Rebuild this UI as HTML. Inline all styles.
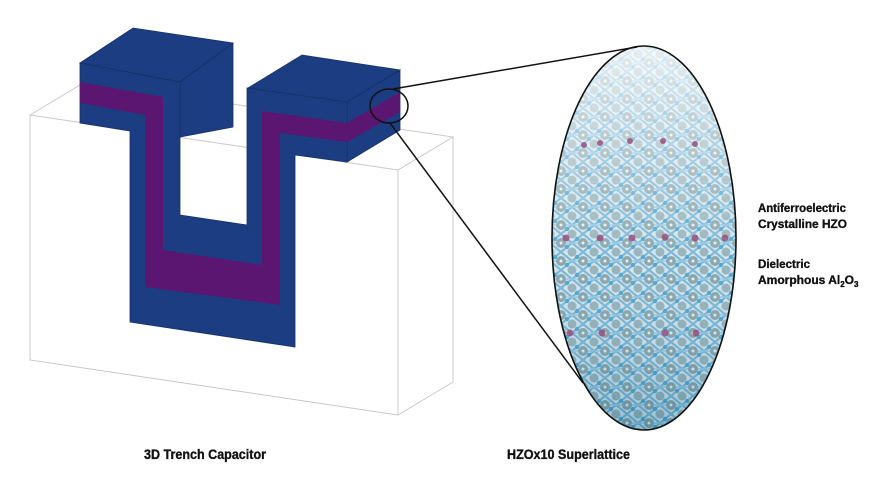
<!DOCTYPE html>
<html><head><meta charset="utf-8"><style>
html,body{margin:0;padding:0;background:#fff;}
svg{display:block;}
text{font-family:"Liberation Sans",sans-serif;font-weight:bold;fill:#111;stroke:#111;stroke-width:0.35;}
</style></head><body>
<svg width="881" height="488" viewBox="0 0 881 488" xmlns="http://www.w3.org/2000/svg">
<defs>
<pattern id="lat" width="22" height="18" patternUnits="userSpaceOnUse">
<rect width="22" height="18" fill="#cfe3ec"/>
<path d="M0 9 L11 0 L22 9 L11 18 Z" fill="none" stroke="#6fb0d2" stroke-width="2.2"/>
<line x1="0" y1="9" x2="22" y2="9" stroke="#8fc3dc" stroke-width="1.5"/>
<circle cx="11" cy="9" r="5" fill="#7f9ea5"/>
<circle cx="0" cy="0" r="4.5" fill="#8eacb3"/>
<circle cx="22" cy="0" r="4.5" fill="#8eacb3"/>
<circle cx="0" cy="18" r="4.5" fill="#8eacb3"/>
<circle cx="22" cy="18" r="4.5" fill="#8eacb3"/>
<circle cx="11" cy="9" r="1.5" fill="#dfeef2"/>
<circle cx="5" cy="5" r="2.2" fill="#3f9fd0"/>
<circle cx="17" cy="13" r="2.2" fill="#3f9fd0"/>
</pattern>
<linearGradient id="fade" x1="0" y1="0" x2="0" y2="1">
<stop offset="0" stop-color="#fff" stop-opacity="0.8"/>
<stop offset="0.25" stop-color="#fff" stop-opacity="0.45"/>
<stop offset="0.55" stop-color="#fff" stop-opacity="0.1"/>
<stop offset="1" stop-color="#1b6488" stop-opacity="0.3"/>
</linearGradient>
<clipPath id="ec"><ellipse cx="644" cy="238" rx="92" ry="192"/></clipPath>
</defs>

<g fill="none" stroke="#c8c8c8" stroke-width="1">
<polygon points="30,115 398,170 398,415 30,360"/>
<polyline points="30,115 85,82 453,137 453,382 398,415"/>
<line x1="398" y1="170" x2="453" y2="137"/>
</g>

<g fill="#1c3d82" stroke="#15306a" stroke-width="0.8">
<polygon points="80,63 133,28 233,43 180,82"/>
<polygon points="180,82 233,43 233,127 180,137"/>
<polygon points="248,88 302,55 400,70 347,102"/>
<polygon points="347,102 400,70 400,130 347,162"/>
<polygon points="80,63 180,82 180,215 247,225 247,88 347,102 347,162 295,155 295,347 130,322 130,131 80,123"/>
</g>
<g fill="#5a1670">
<polygon points="80,82 163,97 163,250 262,265 262,111 347,123 347,142 280,133 280,305 145,287 145,115 80,103"/>
<polygon points="347,123 400,92 400,112 347,142"/>
</g>

<g clip-path="url(#ec)">
<rect x="550" y="44" width="190" height="390" fill="url(#lat)"/>
<rect x="550" y="44" width="190" height="390" fill="url(#fade)"/>
<g fill="#9a4f7c" opacity="0.85">
<circle cx="584" cy="145" r="3"/><circle cx="600" cy="143" r="3"/><circle cx="630" cy="141" r="3"/><circle cx="663" cy="141" r="3"/><circle cx="695" cy="144" r="3"/><circle cx="728" cy="146" r="3"/>
<circle cx="566" cy="238" r="3.5"/><circle cx="600" cy="238" r="3.5"/><circle cx="632" cy="238" r="3.5"/><circle cx="665" cy="237" r="3.5"/><circle cx="695" cy="238" r="3.5"/><circle cx="725" cy="238" r="3.5"/>
<circle cx="570" cy="333" r="3.5"/><circle cx="602" cy="333" r="3.5"/><circle cx="665" cy="333" r="3.5"/><circle cx="696" cy="333" r="3.5"/><circle cx="727" cy="330" r="3.5"/>
</g>
</g>
<ellipse cx="644" cy="238" rx="92" ry="192" fill="none" stroke="#111" stroke-width="1.6"/>

<ellipse cx="389" cy="106" rx="19" ry="17" fill="none" stroke="#111" stroke-width="1.5"/>
<line x1="393" y1="89" x2="637" y2="47" stroke="#111" stroke-width="1.5"/>
<line x1="390" y1="123" x2="583" y2="383" stroke="#111" stroke-width="1.5"/>

<g font-size="12">
<text x="758" y="212" textLength="88" lengthAdjust="spacingAndGlyphs">Antiferroelectric</text>
<text x="758" y="228" textLength="89" lengthAdjust="spacingAndGlyphs">Crystalline HZO</text>
<text x="758" y="268" textLength="52" lengthAdjust="spacingAndGlyphs">Dielectric</text>
<text x="758" y="284">Amorphous Al<tspan font-size="8" dy="3">2</tspan><tspan dy="-3">O</tspan><tspan font-size="8" dy="3">3</tspan></text>
</g>
<text x="144" y="459" font-size="14" textLength="122" lengthAdjust="spacingAndGlyphs">3D Trench Capacitor</text>
<text x="507" y="459" font-size="14" textLength="123" lengthAdjust="spacingAndGlyphs">HZOx10 Superlattice</text>
</svg>
</body></html>
